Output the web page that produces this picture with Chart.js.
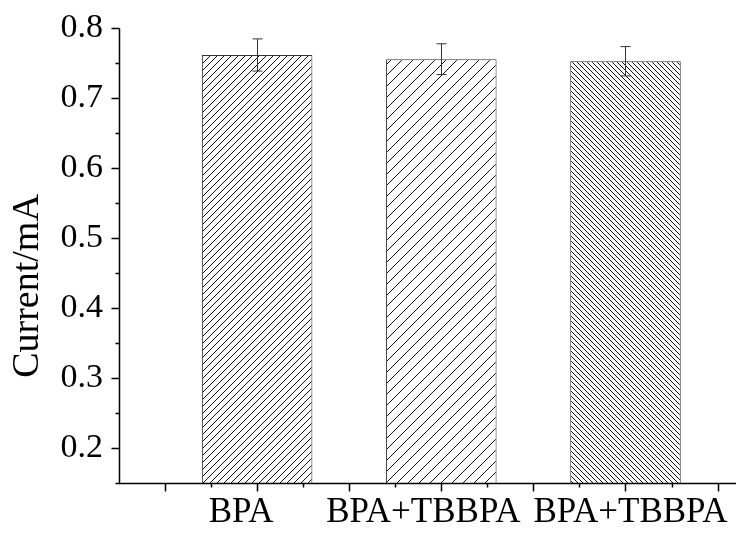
<!DOCTYPE html>
<html>
<head>
<meta charset="utf-8">
<script src="https://cdn.jsdelivr.net/npm/chart.js@4.4.1/dist/chart.umd.min.js"></script>
<style>
  html, body { margin: 0; padding: 0; background: #fff; }
</style>
</head>
<body>
<canvas id="chart" width="736" height="536"></canvas>
<script>
const categories = ['BPA', 'BPA+TBBPA', 'BPA+TBBPA'];
const positions = [1, 2, 3];
const current = [0.762, 0.756, 0.753];
const errors = [0.023, 0.022, 0.021];

const yMajorTicks = [0.2, 0.3, 0.4, 0.5, 0.6, 0.7, 0.8];
const yMinorTicks = [0.15, 0.25, 0.35, 0.45, 0.55, 0.65, 0.75];
const xMajorTicks = [0.5, 1, 1.5, 2, 2.5, 3, 3.5];
const xMinorTicks = [0.75, 1.25, 1.75, 2.25, 2.75, 3.25];

// the original plot pushed the category labels sideways a little
const labelNudge = [-16, -18, 5];

const serif = 'Liberation Serif';
const canvas = document.getElementById('chart');
const ctx = canvas.getContext('2d');

// diagonal hatch fill, '/' or '\'
function hatch(spacing, dir) {
    const c = document.createElement('canvas');
    c.width = spacing;
    c.height = spacing;
    const g = c.getContext('2d');
    g.fillStyle = '#fff';
    g.fillRect(0, 0, spacing, spacing);
    g.strokeStyle = '#111';
    g.lineWidth = 1;
    g.beginPath();
    if (dir === '/') {
        g.moveTo(-1, spacing + 1); g.lineTo(spacing + 1, -1);
        g.moveTo(-1, 1); g.lineTo(1, -1);
        g.moveTo(spacing - 1, spacing + 1); g.lineTo(spacing + 1, spacing - 1);
    } else {
        g.moveTo(-1, -1); g.lineTo(spacing + 1, spacing + 1);
        g.moveTo(spacing - 1, -1); g.lineTo(spacing + 1, 1);
        g.moveTo(-1, spacing - 1); g.lineTo(1, spacing + 1);
    }
    g.stroke();
    return ctx.createPattern(c, 'repeat');
}

const fills = [hatch(7, '/'), hatch(11, '/'), hatch(5, '\\')];

const errorBars = {
    id: 'errorBars',
    afterDatasetsDraw(chart) {
        const x = chart.scales.x, y = chart.scales.y;
        const c = chart.ctx;
        c.save();
        c.strokeStyle = '#333';
        c.lineWidth = 1;
        positions.forEach((p, i) => {
            const px = Math.round(x.getPixelForValue(p)) + 0.5;
            const top = y.getPixelForValue(current[i] + errors[i]);
            const bot = y.getPixelForValue(current[i] - errors[i]);
            c.beginPath();
            c.moveTo(px, top); c.lineTo(px, bot);
            c.moveTo(px - 5, top); c.lineTo(px + 5, top);
            c.moveTo(px - 5, bot); c.lineTo(px + 5, bot);
            c.stroke();
        });
        c.restore();
    }
};

// axis lines, major/minor ticks, category labels and y title
const axes = {
    id: 'axes',
    afterDraw(chart) {
        const x = chart.scales.x, y = chart.scales.y;
        const area = chart.chartArea;
        const c = chart.ctx;
        const left = Math.round(area.left) + 0.5;
        const bottom = Math.round(area.bottom) + 0.5;
        c.save();
        c.strokeStyle = '#000';
        c.lineWidth = 1.5;
        c.beginPath();
        c.moveTo(left, area.top);
        c.lineTo(left, bottom);
        c.moveTo(left - 4, bottom);
        c.lineTo(area.right, bottom);
        yMajorTicks.forEach(v => {
            const py = Math.round(y.getPixelForValue(v)) + 0.5;
            c.moveTo(left - 8, py); c.lineTo(left, py);
        });
        yMinorTicks.forEach(v => {
            const py = Math.round(y.getPixelForValue(v)) + 0.5;
            c.moveTo(left - 4, py); c.lineTo(left, py);
        });
        xMajorTicks.forEach(v => {
            const px = Math.round(x.getPixelForValue(v)) + 0.5;
            c.moveTo(px, bottom); c.lineTo(px, bottom + 8);
        });
        xMinorTicks.forEach(v => {
            const px = Math.round(x.getPixelForValue(v)) + 0.5;
            c.moveTo(px, bottom); c.lineTo(px, bottom + 4);
        });
        c.stroke();

        c.fillStyle = '#000';
        c.font = '35px "' + serif + '"';
        c.textAlign = 'center';
        c.textBaseline = 'alphabetic';
        categories.forEach((name, i) => {
            c.fillText(name, x.getPixelForValue(positions[i]) + labelNudge[i], bottom + 38);
        });

        c.font = '38px "' + serif + '"';
        c.textBaseline = 'middle';
        c.translate(28, 286);
        c.rotate(-Math.PI / 2);
        c.fillText('Current/mA', 0, 0);
        c.restore();
    }
};

const hiddenGrid = {
    display: true,
    drawOnChartArea: false,
    drawTicks: true,
    tickLength: 8,
    offset: false,
    color: 'rgba(0,0,0,0)'
};

new Chart(ctx, {
    type: 'bar',
    data: {
        datasets: [{
            data: positions.map((p, i) => ({ x: p, y: current[i] })),
            backgroundColor: fills,
            borderColor: '#333',
            borderWidth: 1,
            barPercentage: 0.6,
            categoryPercentage: 1
        }]
    },
    options: {
        responsive: false,
        animation: false,
        events: [],
        layout: { padding: { top: 25, right: 0, bottom: 0, left: 0 } },
        plugins: {
            legend: { display: false },
            tooltip: { enabled: false }
        },
        scales: {
            x: {
                type: 'linear',
                offset: false,
                min: 0.25,
                max: 3.6,
                afterBuildTicks: s => { s.ticks = positions.map(v => ({ value: v })); },
                afterFit: s => { s.height = 53; },
                grid: hiddenGrid,
                border: { display: false },
                ticks: { display: false }
            },
            y: {
                min: 0.15,
                max: 0.8,
                afterBuildTicks: s => { s.ticks = yMajorTicks.map(v => ({ value: v })); },
                afterFit: s => { s.width = 119; },
                grid: hiddenGrid,
                border: { display: false },
                ticks: {
                    padding: 8,
                    color: '#000',
                    font: { family: serif, size: 34 },
                    callback: v => v.toFixed(1)
                }
            }
        }
    },
    plugins: [errorBars, axes]
});
</script>
</body>
</html>
